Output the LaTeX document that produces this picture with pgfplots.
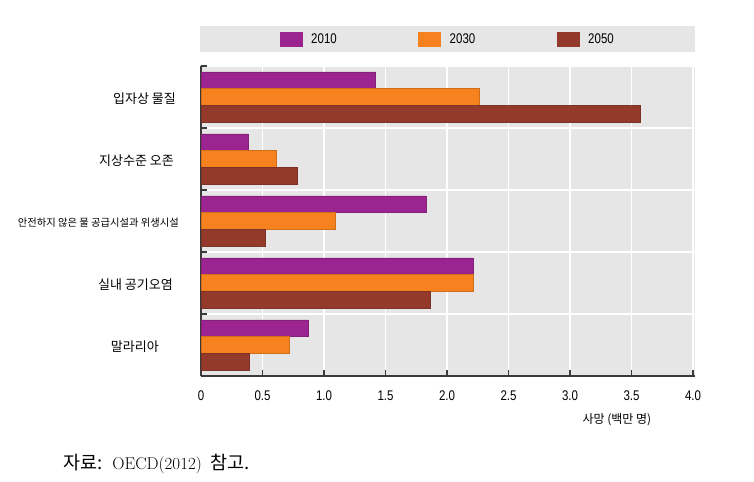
\documentclass[border=0pt]{standalone}
\usepackage{fontspec}
\usepackage{pgfplots}
\pgfplotsset{compat=1.18}
\newfontfamily\cjk{Noto Sans CJK KR}
\newfontfamily\numfont{Liberation Sans}[FakeStretch=0.82]
\definecolor{cA}{HTML}{9C2490}
\definecolor{cB}{HTML}{F5821F}
\definecolor{cC}{HTML}{943A2C}
\definecolor{bg}{HTML}{E6E6E6}
\definecolor{ax}{HTML}{3A3A3A}
\begin{document}
\begin{tikzpicture}
\useasboundingbox (0,0) rectangle (754bp,482bp);
\begin{axis}[
  at={(201bp,106bp)}, anchor=south west,
  scale only axis, width=494bp, height=310bp,
  xmin=0, xmax=4.016, ymin=-0.5, ymax=4.5,
  axis x line*=bottom, axis y line*=left,
  axis line style={ax, line width=1.3bp},
  axis background/.style={fill=bg},
  tick align=inside, major tick length=6bp,
  tick style={ax, line width=1.2bp},
  xtick={0,0.5,1,1.5,2,2.5,3,3.5,4},
  xticklabels={0,0.5,1.0,1.5,2.0,2.5,3.0,3.5,4.0},
  xticklabel style={font=\numfont\fontsize{14bp}{16bp}\selectfont, yshift=-11bp},
  ytick={0.5,1.5,2.5,3.5,4.5}, yticklabels={},
  extra y ticks={0,1,2,3,4},
  extra y tick labels={{말라리아\kern16bp},{실내 공기오염\kern2bp},{\fontsize{10.3bp}{12bp}\selectfont 안전하지 않은 물 공급시설과 위생시설\kern-4bp},{지상수준 오존\kern1bp},{입자상 물질\kern-1bp}},
  extra y tick style={major tick length=0pt, grid=none},
  yticklabel style={font=\cjk\fontsize{13bp}{15bp}\selectfont, inner sep=0pt, xshift=-26bp, yshift=-2bp},
  grid=major, major grid style={white, line width=1.6bp},
  xlabel={사망 (백만 명)},
  xlabel style={font=\cjk\fontsize{12bp}{14bp}\selectfont, at={(axis description cs:0.842,0)}, anchor=center, yshift=-44bp},
  legend columns=3,
  legend style={at={(axis description cs:0,1)}, anchor=south west, xshift=-1bp, yshift=14bp,
    fill=bg, draw=none, inner sep=0pt, outer sep=0pt,
    /tikz/every odd column/.append style={column sep=9bp},
    nodes={inner sep=0pt, text width=107bp, minimum height=26bp, align=left,
      font=\numfont\fontsize{14bp}{16bp}\selectfont}},
]
\addplot[xbar, bar width=0.27, bar shift=0.27, fill=cA, draw=cA!85!black, line width=0.5bp,
  legend image code/.code={\path[draw=none,fill=none] (-80bp,-1bp) rectangle (0bp,1bp); \fill[cA] (0bp,-7.2bp) rectangle (22bp,7.2bp);}]
  coordinates {(1.42,4) (0.385,3) (1.83,2) (2.21,1) (0.875,0)};
\addplot[xbar, bar width=0.27, bar shift=0, fill=cB, draw=cB!85!black, line width=0.5bp,
  legend image code/.code={\fill[cB] (0bp,-7.2bp) rectangle (22bp,7.2bp);}]
  coordinates {(2.26,4) (0.615,3) (1.09,2) (2.21,1) (0.72,0)};
\addplot[xbar, bar width=0.27, bar shift=-0.27, fill=cC, draw=cC!85!black, line width=0.5bp,
  legend image code/.code={\fill[cC] (0bp,-7.2bp) rectangle (22bp,7.2bp);}]
  coordinates {(3.57,4) (0.78,3) (0.52,2) (1.86,1) (0.39,0)};
\legend{2010,2030,2050}
\end{axis}
\node[anchor=west, inner sep=0pt, font=\fontsize{17bp}{20bp}\selectfont] at (63bp,18bp)
  {{\cjk\fontsize{18.5bp}{21bp}\selectfont 자료:}\hspace{10bp}OECD(2012)\hspace{9bp}{\cjk\fontsize{18.5bp}{21bp}\selectfont 참고.}};
\end{tikzpicture}
\end{document}
